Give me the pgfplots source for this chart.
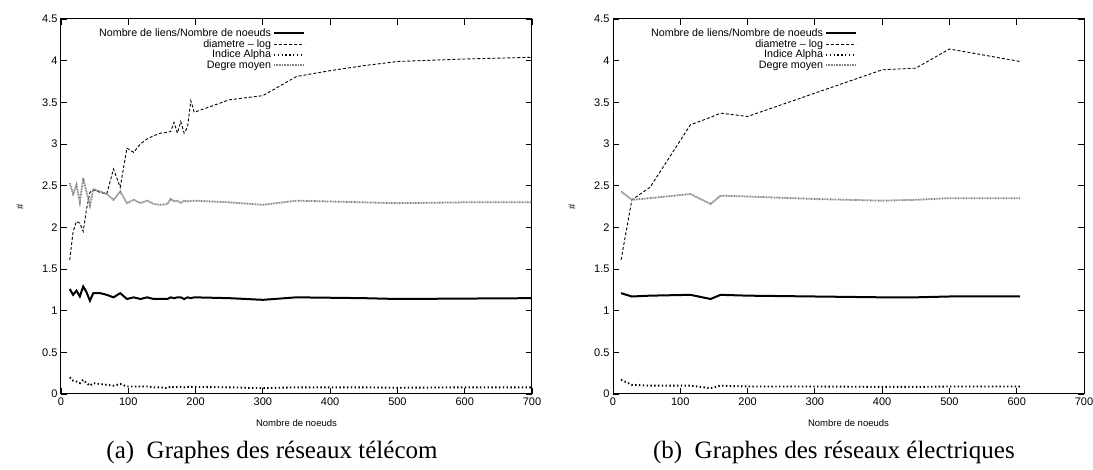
\documentclass[border=0pt]{standalone}
\usepackage{fontspec}
\setmainfont{Liberation Sans}
\newfontfamily\capfont{Liberation Serif}
\usepackage{pgfplots}
\pgfplotsset{compat=1.18}
\usepackage{pgfplotstable}

\pgfplotstableread{
x    liens diam alpha deg
13   1.26  1.61 0.20  2.53
18   1.19  1.95 0.16  2.40
23   1.24  2.07 0.15  2.51
28   1.17  2.05 0.13  2.30
33   1.29  1.95 0.17  2.59
38   1.22  2.22 0.13  2.42
43   1.12  2.42 0.10  2.26
48   1.21  2.45 0.13  2.46
58   1.21  2.42 0.12  2.43
68   1.19  2.40 0.11  2.40
78   1.16  2.70 0.10  2.33
88   1.21  2.48 0.12  2.43
98   1.14  2.95 0.09  2.29
108  1.16  2.90 0.09  2.33
118  1.14  3.00 0.09  2.29
128  1.16  3.06 0.09  2.32
138  1.14  3.10 0.08  2.28
148  1.14  3.13 0.08  2.27
158  1.14  3.14 0.07  2.28
163  1.16  3.15 0.09  2.34
168  1.15  3.26 0.08  2.31
173  1.16  3.13 0.085 2.32
178  1.16  3.27 0.085 2.29
183  1.14  3.13 0.08  2.32
188  1.16  3.20 0.085 2.31
193  1.15  3.52 0.085 2.32
198  1.16  3.38 0.085 2.32
250  1.15  3.53 0.08  2.30
300  1.13  3.58 0.07  2.27
350  1.16  3.81 0.08  2.32
400  1.155 3.88 0.08  2.31
450  1.15  3.94 0.08  2.30
500  1.14  3.99 0.075 2.29
600  1.145 4.02 0.08  2.30
700  1.15  4.04 0.08  2.30
}\telecom

\pgfplotstableread{
x    liens diam alpha deg
12   1.21  1.61 0.17  2.43
28   1.17  2.33 0.11  2.33
55   1.18  2.48 0.10  2.35
115  1.19  3.23 0.10  2.40
145  1.14  3.32 0.07  2.28
160  1.19  3.37 0.10  2.38
200  1.18  3.33 0.09  2.37
300  1.17  3.61 0.09  2.34
400  1.16  3.89 0.085 2.32
450  1.16  3.91 0.085 2.33
500  1.17  4.14 0.09  2.35
605  1.17  3.99 0.09  2.35
}\elec

\pgfplotsset{
  gnu/.style={
    scale only axis, width=471pt, height=375pt,
    xmin=0, xmax=700, ymin=0, ymax=4.5,
    clip mode=individual,
    xtick={0,100,200,300,400,500,600,700},
    ytick={0,0.5,1,1.5,2,2.5,3,3.5,4,4.5},
    tick align=inside, tick pos=both, major tick length=6pt,
    axis line style={line width=1pt},
    every tick/.style={black, line width=0.8pt},
    tick label style={font=\fontsize{11}{13}\selectfont},
    /pgf/number format/assume math mode=true,
    xlabel={Nombre de noeuds}, ylabel={\#},
    label style={font=\fontsize{9.5}{11}\selectfont},
    xlabel style={at={(axis description cs:0.5,-0.077)}, anchor=center},
    ylabel style={at={(axis description cs:-0.087,0.5)}, anchor=center},
    legend style={draw=none, fill=none, at={(0.525,0.985)}, anchor=north east,
      font=\fontsize{10.7}{12}\selectfont, row sep=-2.6pt},
    legend plot pos=right, legend cell align=right,
    legend image code/.code={\draw[##1] (0pt,0pt) -- (30pt,0pt);},
  },
  sliens/.style={black, line width=2pt},
  sdiam/.style={black, line width=0.9pt, dash pattern=on 3pt off 2pt},
  salpha/.style={black, line width=1.9pt, dash pattern=on 1.4pt off 2.4pt},
  sdeg/.style={black!50, line width=1.8pt, dash pattern=on 0.9pt off 0.7pt},
}

\begin{document}
\begin{tikzpicture}
\path[use as bounding box] (-61pt,-76pt) rectangle (1032pt,394pt);
\begin{axis}[gnu]
\addplot[sliens] table[x=x,y=liens] {\telecom};
\addlegendentry{Nombre de liens/Nombre de noeuds}
\addplot[sdiam] table[x=x,y=diam] {\telecom};
\addlegendentry{diametre -- log}
\addplot[salpha] table[x=x,y=alpha] {\telecom};
\addlegendentry{Indice Alpha}
\addplot[sdeg] table[x=x,y=deg] {\telecom};
\addlegendentry{Degre moyen}
\node[font=\capfont\fontsize{25}{28}\selectfont] at (axis description cs:0.448,-0.155) {(a)~~Graphes des réseaux télécom};
\end{axis}
\begin{axis}[gnu, at={(552pt,0pt)}]
\addplot[sliens] table[x=x,y=liens] {\elec};
\addlegendentry{Nombre de liens/Nombre de noeuds}
\addplot[sdiam] table[x=x,y=diam] {\elec};
\addlegendentry{diametre -- log}
\addplot[salpha] table[x=x,y=alpha] {\elec};
\addlegendentry{Indice Alpha}
\addplot[sdeg] table[x=x,y=deg] {\elec};
\addlegendentry{Degre moyen}
\node[font=\capfont\fontsize{25}{28}\selectfont] at (axis description cs:0.469,-0.155) {(b)~~Graphes des réseaux électriques};
\end{axis}
\end{tikzpicture}
\end{document}
